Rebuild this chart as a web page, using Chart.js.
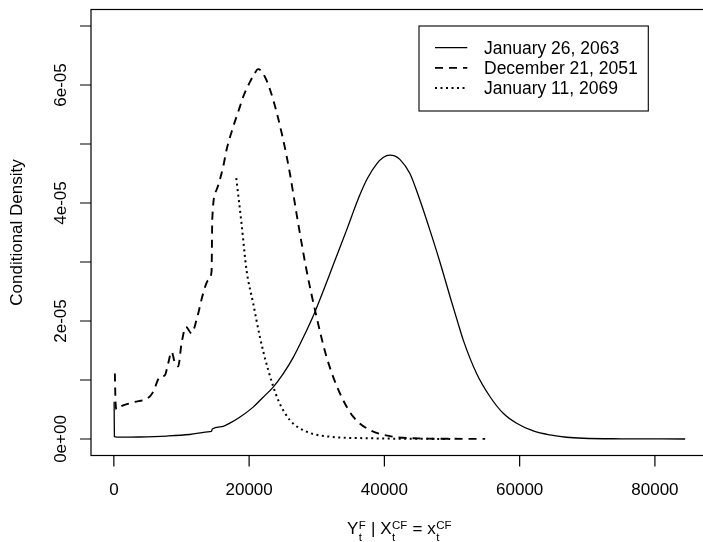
<!DOCTYPE html>
<html>
<head>
<meta charset="utf-8">
<script src="https://cdn.jsdelivr.net/npm/chart.js@4.4.1/dist/chart.umd.min.js"></script>
<style>
  html, body { margin: 0; padding: 0; background: #fff; overflow: hidden; }
  #wrap { width: 740px; height: 542px; }
</style>
</head>
<body>
<div id="wrap"><canvas id="density" width="740" height="542"></canvas></div>
<script>
// Conditional densities of Y^F given X^CF for three dates.
// Density values are kept in units of 1e-5.
const DENSITY_UNIT = 1e-5;

const seriesLabels = ['January 26, 2063', 'December 21, 2051', 'January 11, 2069'];

const jan2063X = [40, 80, 900, 3800, 7800, 11200, 14200, 14450, 14550, 16000, 17150, 18500,
  20600, 22000, 23560, 25000, 26510, 28000, 29720, 31000, 31940, 33000, 34410, 35400, 36380,
  37500, 38840, 39820, 40810, 41500, 42290, 43770, 45250, 46730, 48210, 49690, 50900, 51650,
  53630, 55600, 57570, 59550, 62010, 64470, 66940, 69400, 75000, 84470];
const jan2063Y = [0.63, 0.04, 0.03, 0.034, 0.05, 0.076, 0.124, 0.13, 0.17, 0.21, 0.27, 0.36,
  0.54, 0.70, 0.88, 1.10, 1.38, 1.72, 2.15, 2.52, 2.80, 3.12, 3.54, 3.85, 4.14,
  4.42, 4.66, 4.77, 4.81, 4.80, 4.74, 4.50, 4.05, 3.54, 3.00, 2.42, 1.96, 1.68,
  1.11, 0.72, 0.435, 0.266, 0.136, 0.068, 0.029, 0.012, 0.003, 0.0];

const dec2051X = [150, 250, 420, 1000, 2850, 5320, 5810, 6800, 7540, 8030, 8530, 9000, 9510,
  10010, 10650, 11490, 12230, 13210, 13950, 14450, 14550, 15180, 16170, 16660, 17640, 18630,
  19120, 20110, 20600, 21340, 22330, 23560, 25040, 26030, 27010, 28490, 29970, 31450, 33420,
  35390, 37850, 41300, 45000, 50000, 54900];
const dec2051Y = [1.11, 0.62, 0.50, 0.55, 0.62, 0.72, 0.80, 1.05, 1.08, 1.28, 1.48, 1.30, 1.23,
  1.62, 1.90, 1.79, 2.02, 2.47, 2.69, 2.84, 3.72, 4.22, 4.62, 4.90, 5.29, 5.63,
  5.80, 6.05, 6.15, 6.27, 6.14, 5.75, 5.07, 4.50, 3.82, 2.86, 2.07, 1.39, 0.775,
  0.378, 0.153, 0.039, 0.01, 0.003, 0.002];

const jan2069X = [18100, 18880, 19620, 20600, 21590, 22820, 24300, 26030, 28490, 31940, 37850,
  45000, 50000];
const jan2069Y = [4.42, 3.65, 2.86, 2.30, 1.73, 1.17, 0.66, 0.32, 0.124, 0.039, 0.012,
  0.003, 0.001];

const xTicks = [0, 20000, 40000, 60000, 80000];
const xTickLabels = ['0', '20000', '40000', '60000', '80000'];
const yTicks = [0, 1, 2, 3, 4, 5, 6, 7];
const yTickLabels = ['0e+00', '', '2e-05', '', '4e-05', '', '6e-05', ''];

const FONT = '"Liberation Sans", Arial, Helvetica, sans-serif';

function toPoints(xs, ys) {
  return xs.map((x, i) => ({ x: x, y: ys[i] * DENSITY_UNIT }));
}

const lineStyles = [
  { width: 1.3, dash: [] },
  { width: 1.9, dash: [8, 6] },
  { width: 2, dash: [2, 3.5] }
];

// R-style box, axes, labels and legend
const baseGraphics = {
  id: 'baseGraphics',
  afterDraw(chart) {
    const { ctx, chartArea: a, scales: { x, y } } = chart;
    ctx.save();
    ctx.strokeStyle = '#000';
    ctx.fillStyle = '#000';
    ctx.lineWidth = 1.2;
    ctx.setLineDash([]);
    ctx.strokeRect(a.left, a.top, a.right - a.left, a.bottom - a.top);

    // tick marks
    ctx.beginPath();
    xTicks.forEach(v => {
      const px = x.getPixelForValue(v);
      ctx.moveTo(px, a.bottom);
      ctx.lineTo(px, a.bottom + 11);
    });
    yTicks.forEach(v => {
      const py = y.getPixelForValue(v * DENSITY_UNIT);
      ctx.moveTo(a.left, py);
      ctx.lineTo(a.left - 11, py);
    });
    ctx.stroke();

    // tick labels
    ctx.font = '17px ' + FONT;
    ctx.textAlign = 'center';
    ctx.textBaseline = 'alphabetic';
    xTicks.forEach((v, i) => {
      ctx.fillText(xTickLabels[i], x.getPixelForValue(v), a.bottom + 39.5);
    });
    yTicks.forEach((v, i) => {
      if (!yTickLabels[i]) return;
      ctx.save();
      ctx.translate(a.left - 24.6, y.getPixelForValue(v * DENSITY_UNIT));
      ctx.rotate(-Math.PI / 2);
      ctx.fillText(yTickLabels[i], 0, 0);
      ctx.restore();
    });

    // y title
    ctx.save();
    ctx.translate(21.8, (a.top + a.bottom) / 2);
    ctx.rotate(-Math.PI / 2);
    ctx.fillText('Conditional Density', 0, 0);
    ctx.restore();

    // x title with super/subscripts
    const mainFont = '17px ' + FONT;
    const smallFont = '11.5px ' + FONT;
    const parts = [
      { text: 'Y' }, { sup: 'F', sub: 't' },
      { text: ' | X' }, { sup: 'CF', sub: 't' },
      { text: ' = x' }, { sup: 'CF', sub: 't' }
    ];
    const widths = parts.map(p => {
      if (p.text) { ctx.font = mainFont; return ctx.measureText(p.text).width; }
      ctx.font = smallFont;
      return Math.max(ctx.measureText(p.sup).width, ctx.measureText(p.sub).width) + 1;
    });
    const total = widths.reduce((s, w) => s + w, 0);
    let cx = (a.left + a.right) / 2 - total / 2;
    const base = 533.5;
    ctx.textAlign = 'left';
    parts.forEach((p, i) => {
      if (p.text) {
        ctx.font = mainFont;
        ctx.fillText(p.text, cx, base);
      } else {
        ctx.font = smallFont;
        ctx.fillText(p.sup, cx + 0.5, base - 4.2);
        ctx.fillText(p.sub, cx + 0.5, base + 7.5);
      }
      cx += widths[i];
    });

    // legend
    ctx.lineWidth = 1.1;
    ctx.strokeRect(419, 26, 229.3, 85);
    ctx.font = '17.5px ' + FONT;
    seriesLabels.forEach((label, i) => {
      const baseline = 54 + i * 20.2;
      const ly = baseline - 6.3;
      ctx.beginPath();
      ctx.lineWidth = lineStyles[i].width;
      ctx.setLineDash(lineStyles[i].dash);
      ctx.moveTo(435, ly);
      ctx.lineTo(467.3, ly);
      ctx.stroke();
      ctx.fillText(label, 484, baseline);
    });
    ctx.restore();
  }
};

const seriesData = [
  toPoints(jan2063X, jan2063Y),
  toPoints(dec2051X, dec2051Y),
  toPoints(jan2069X, jan2069Y)
];

new Chart(document.getElementById('density'), {
  type: 'line',
  data: {
    datasets: seriesData.map((pts, i) => ({
      label: seriesLabels[i],
      data: pts,
      borderColor: '#000',
      borderWidth: lineStyles[i].width,
      borderDash: lineStyles[i].dash,
      borderCapStyle: 'butt',
      pointRadius: 0,
      fill: false,
      cubicInterpolationMode: 'monotone'
    }))
  },
  options: {
    responsive: false,
    devicePixelRatio: 1,
    animation: false,
    layout: { padding: { left: 91, top: 9.5, right: 32, bottom: 86.5 } },
    plugins: { legend: { display: false }, tooltip: { enabled: false } },
    scales: {
      x: { type: 'linear', min: -3379, max: 87849, display: false },
      y: { type: 'linear', min: -0.28e-5, max: 7.28e-5, display: false }
    }
  },
  plugins: [baseGraphics]
});
</script>
</body>
</html>
